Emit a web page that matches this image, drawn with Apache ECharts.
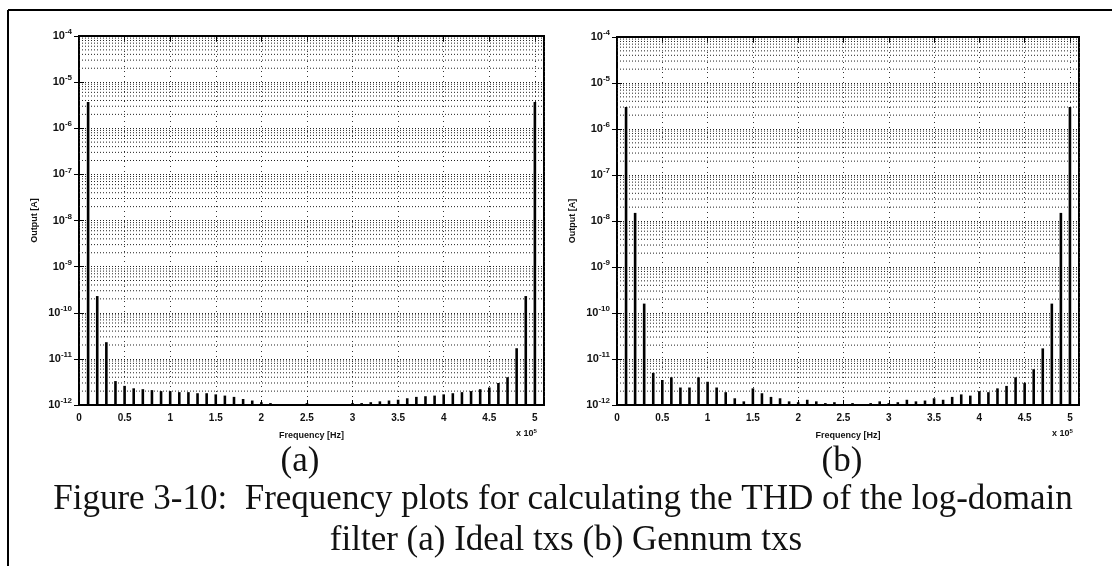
<!DOCTYPE html>
<html>
<head>
<meta charset="utf-8">
<script src="https://cdn.jsdelivr.net/npm/echarts@6/dist/echarts.min.js"></script>
<style>
html, body { margin: 0; padding: 0; background: #fff; }
#chart { width: 1112px; height: 566px; }
</style>
</head>
<body>
<div id="chart"></div>
<script>
// FFT bins (kHz) where the stems sit, same for both plots
const freqKHz = [
    10, 20, 30, 40, 50, 60, 70, 80, 90, 100,
    110, 120, 130, 140, 150, 160, 170, 180, 190, 200,
    210, 220, 230, 240, 250, 260, 270, 280, 290, 300,
    310, 320, 330, 340, 350, 360, 370, 380, 390, 400,
    410, 420, 430, 440, 450, 460, 470, 480, 490, 500
];

// (a) Ideal txs, output [A]
const outputIdeal = [
    3.7e-6, 2.3e-10, 2.3e-11, 3.3e-12, 2.6e-12, 2.3e-12, 2.2e-12, 2.1e-12, 2.0e-12, 2.0e-12,
    1.9e-12, 1.9e-12, 1.8e-12, 1.8e-12, 1.7e-12, 1.6e-12, 1.5e-12, 1.35e-12, 1.25e-12, 1.15e-12,
    1.1e-12, 1.05e-12, 9e-13, 9e-13, 1.1e-12, 9e-13, 9e-13, 9e-13, 1.03e-12, 1.1e-12,
    1.1e-12, 1.15e-12, 1.2e-12, 1.25e-12, 1.3e-12, 1.4e-12, 1.5e-12, 1.55e-12, 1.6e-12, 1.7e-12,
    1.8e-12, 1.9e-12, 2.0e-12, 2.2e-12, 2.4e-12, 3.0e-12, 4.0e-12, 1.7e-11, 2.3e-10, 3.7e-6
];

// (b) Gennum txs, output [A]
const outputGennum = [
    3.0e-6, 1.5e-8, 1.6e-10, 5.0e-12, 3.5e-12, 4.0e-12, 2.4e-12, 2.4e-12, 4.0e-12, 3.2e-12,
    2.4e-12, 1.9e-12, 1.4e-12, 1.2e-12, 2.3e-12, 1.8e-12, 1.5e-12, 1.4e-12, 1.2e-12, 1.15e-12,
    1.3e-12, 1.2e-12, 1.1e-12, 1.15e-12, 1.05e-12, 1.1e-12, 1.05e-12, 1.1e-12, 1.2e-12, 1.1e-12,
    1.15e-12, 1.3e-12, 1.2e-12, 1.25e-12, 1.4e-12, 1.3e-12, 1.5e-12, 1.7e-12, 1.6e-12, 2.0e-12,
    1.9e-12, 2.3e-12, 2.6e-12, 4.0e-12, 3.0e-12, 6.0e-12, 1.7e-11, 1.6e-10, 1.5e-8, 3.0e-6
];

// axis limits / ticks
const yMin = 1e-12, yMax = 1e-4;
const xMax = 510000, xStep = 50000;

const chart = echarts.init(document.getElementById('chart'));

const tickFont = { fontFamily: 'Liberation Sans', fontWeight: 'bold', color: '#111' };

// matlab-style minor grid at 2..9 x 10^n
const minorGrid = [];
for (let n = -12; n < -4; n++) {
    for (let k = 2; k <= 9; k++) minorGrid.push([0, k * Math.pow(10, n)]);
}

function stemItem(params, api) {
    const top = api.coord([api.value(0), api.value(1)]);
    const base = api.coord([api.value(0), yMin]);
    return {
        type: 'line',
        shape: { x1: top[0], y1: top[1], x2: base[0], y2: base[1] },
        style: { stroke: '#000', lineWidth: 2.6 }
    };
}

function gridLineItem(params, api) {
    const a = api.coord([0, api.value(1)]);
    const b = api.coord([xMax, api.value(1)]);
    return {
        type: 'line',
        shape: { x1: a[0], y1: a[1], x2: b[0], y2: b[1] },
        style: { stroke: '#222', lineWidth: 1, lineDash: [1, 2] }
    };
}

const grids = [
    { left: 79, top: 36, width: 465, height: 369 },
    { left: 617, top: 37, width: 462, height: 368 }
];
const datasets = [outputIdeal, outputGennum];

const xAxes = [], yAxes = [], series = [];
grids.forEach((g, i) => {
    g.show = true;
    g.borderColor = '#000';
    g.borderWidth = 2;
    xAxes.push({
        type: 'value', gridIndex: i, min: 0, max: xMax, interval: xStep,
        name: 'Frequency [Hz]', nameLocation: 'middle', nameGap: 26,
        nameTextStyle: Object.assign({ fontSize: 9 }, tickFont),
        axisLine: { lineStyle: { color: '#000', width: 2 } },
        axisTick: { inside: true, length: 5, lineStyle: { color: '#000' } },
        axisLabel: Object.assign({
            fontSize: 10, margin: 8,
            formatter: v => (v % xStep === 0 ? String(v / 1e5) : '')
        }, tickFont),
        splitLine: { show: true, lineStyle: { color: '#333', type: [1, 4], width: 1 } }
    });
    xAxes.push({
        type: 'value', gridIndex: i, position: 'top', min: 0, max: xMax, interval: xStep,
        axisLine: { lineStyle: { color: '#000', width: 2 } },
        axisTick: { inside: true, length: 5, lineStyle: { color: '#000' } },
        axisLabel: { show: false }, splitLine: { show: false }
    });
    yAxes.push({
        type: 'log', logBase: 10, gridIndex: i, min: yMin, max: yMax, splitNumber: 8,
        name: 'Output [A]', nameLocation: 'middle', nameGap: 40, nameRotate: 90,
        nameTextStyle: Object.assign({ fontSize: 9 }, tickFont),
        axisLine: { lineStyle: { color: '#000', width: 2 } },
        axisTick: { inside: true, length: 5, lineStyle: { color: '#000' } },
        axisLabel: {
            margin: 7,
            formatter: v => '{b|10}{s|' + Math.round(Math.log10(v)) + '}',
            rich: {
                b: Object.assign({ fontSize: 11 }, tickFont),
                s: Object.assign({ fontSize: 8, padding: [0, 0, 8, 0] }, tickFont)
            }
        },
        splitLine: { show: true, lineStyle: { color: '#222', type: [1, 2], width: 1 } }
    });
    yAxes.push({
        type: 'log', logBase: 10, gridIndex: i, position: 'right', min: yMin, max: yMax, splitNumber: 8,
        axisLine: { lineStyle: { color: '#000', width: 2 } },
        axisTick: { inside: true, length: 5, lineStyle: { color: '#000' } },
        axisLabel: { show: false }, splitLine: { show: false }
    });
    series.push({
        type: 'custom',
        xAxisIndex: i * 2, yAxisIndex: i * 2,
        clip: true, silent: true,
        renderItem: gridLineItem,
        encode: { x: 0, y: 1 },
        data: minorGrid,
        z: 1
    });
    series.push({
        type: 'custom',
        xAxisIndex: i * 2, yAxisIndex: i * 2,
        clip: true,
        renderItem: stemItem,
        encode: { x: 0, y: 1 },
        data: freqKHz.map((f, k) => [f * 1000, datasets[i][k]]),
        z: 3
    });
});

const captionFont = { fontFamily: 'Liberation Serif', fill: '#111' };
const xScaleRich = {
    a: { fontSize: 9, fontFamily: 'Liberation Sans', fontWeight: 'bold', fill: '#111' },
    s: { fontSize: 6, fontFamily: 'Liberation Sans', fontWeight: 'bold', fill: '#111', padding: [0, 0, 6, 0] }
};

chart.setOption({
    animation: false,
    backgroundColor: '#fff',
    grid: grids,
    xAxis: xAxes,
    yAxis: yAxes,
    series: series,
    graphic: [
        { type: 'line', shape: { x1: 8, y1: 10, x2: 1112, y2: 10 }, style: { stroke: '#000', lineWidth: 2 } },
        { type: 'line', shape: { x1: 8, y1: 10, x2: 8, y2: 566 }, style: { stroke: '#000', lineWidth: 2 } },
        { type: 'text', left: 516, top: 428, style: { text: '{a|x 10}{s|5}', rich: xScaleRich } },
        { type: 'text', left: 1052, top: 428, style: { text: '{a|x 10}{s|5}', rich: xScaleRich } },
        { type: 'text', x: 300, y: 462, style: Object.assign({ text: '(a)', fontSize: 35, align: 'center', verticalAlign: 'middle' }, captionFont) },
        { type: 'text', x: 842, y: 462, style: Object.assign({ text: '(b)', fontSize: 35, align: 'center', verticalAlign: 'middle' }, captionFont) },
        { type: 'text', x: 563, y: 500, style: Object.assign({ text: 'Figure 3-10:  Frequency plots for calculating the THD of the log-domain', fontSize: 35, align: 'center', verticalAlign: 'middle' }, captionFont) },
        { type: 'text', x: 566, y: 541, style: Object.assign({ text: 'filter (a) Ideal txs (b) Gennum txs', fontSize: 35, align: 'center', verticalAlign: 'middle' }, captionFont) }
    ]
});
</script>
</body>
</html>
